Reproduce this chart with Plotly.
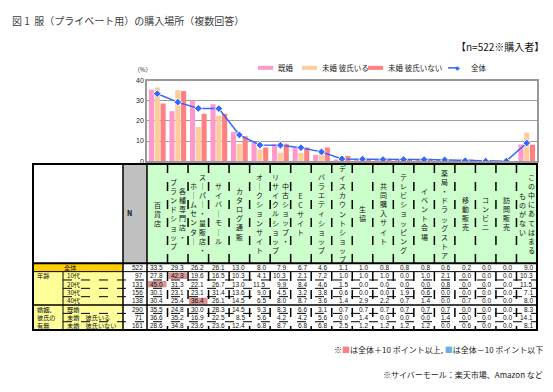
import plotly.graph_objects as go

W, H = 553, 392
FONT = "Noto Sans CJK JP"

# ---------------- data ----------------
categories = ["百貨店", "各種専門店・ブランドショップ", "スーパー・量販店・ホームセンター",
              "サイバーモール", "カタログ通販", "オークションサイト",
              "中古ショップ・リサイクルショップ", "ECサイト", "バラエティショップ",
              "ディスカウントショップ", "生協", "共同購入サイト", "テレビショッピング",
              "イベント会場", "薬局・ドラッグストア", "移動販売", "コンビニ", "訪問販売",
              "この中にあてはまるものがない"]
header_lines = [["百貨店"], ["各種専門店・", "ブランドショップ"], ["スーパー・量販店・", "ホームセンター"],
                ["サイバーモール"], ["カタログ通販"], ["オークションサイト"],
                ["中古ショップ・", "リサイクルショップ"], ["ECサイト"], ["バラエティショップ"],
                ["ディスカウントショップ"], ["生協"], ["共同購入サイト"], ["テレビショッピング"],
                ["イベント会場"], ["薬局・ドラッグストア"], ["移動販売"], ["コンビニ"], ["訪問販売"],
                ["この中にあてはまる", "ものがない"]]

overall = [33.5, 29.3, 26.2, 26.1, 13.0, 8.0, 7.9, 6.7, 4.6, 1.1, 1.0, 0.8, 0.8, 0.8, 0.6, 0.2, 0.0, 0.0, 9.0]
teens = [27.8, 42.3, 19.6, 16.5, 10.3, 4.1, 10.3, 2.1, 7.2, 1.0, 1.0, 1.0, 0.0, 1.0, 2.1, 0.0, 0.0, 0.0, 10.3]
twenties = [45.0, 31.3, 22.1, 26.7, 13.0, 11.5, 9.9, 8.4, 4.6, 1.5, 0.0, 0.0, 0.0, 0.0, 0.8, 0.0, 0.0, 0.0, 11.5]
thirties = [30.1, 23.1, 23.1, 31.4, 13.6, 9.0, 4.5, 3.2, 3.8, 0.6, 0.0, 0.0, 1.9, 0.6, 0.0, 0.0, 0.0, 0.0, 7.1]
forties = [30.4, 25.4, 36.4, 26.1, 14.5, 6.5, 8.0, 8.7, 3.6, 1.4, 2.9, 2.2, 0.7, 1.4, 0.0, 0.7, 0.0, 0.0, 8.0]
married = [35.5, 24.8, 30.0, 28.3, 14.5, 9.3, 8.3, 6.6, 3.1, 0.7, 0.7, 0.7, 0.7, 0.7, 0.7, 0.0, 0.0, 0.0, 8.3]
single_bf = [36.6, 35.2, 16.9, 22.5, 8.5, 5.6, 4.2, 4.2, 5.6, 0.0, 1.4, 0.0, 0.0, 0.0, 1.4, 0.0, 0.0, 0.0, 14.1]
single_nobf = [28.6, 34.8, 23.6, 23.6, 12.4, 6.8, 8.7, 6.8, 6.8, 2.5, 1.2, 1.2, 1.2, 1.2, 0.0, 0.6, 0.0, 0.0, 8.1]

row_labels = ["全体", "10代", "20代", "30代", "40代", "既婚", "未婚　彼氏いる", "未婚　彼氏いない"]
row_n = [522, 97, 131, 156, 138, 290, 71, 161]
row_values = [overall, teens, twenties, thirties, forties, married, single_bf, single_nobf]

series_names = ["既婚", "未婚 彼氏いる", "未婚 彼氏いない", "全体"]
y_ticks = [0, 10, 20, 30, 40]

# ---------------- styles ----------------
C_PINK, C_ORANGE, C_RED, C_BLUE = "#FF99CC", "#FFCC99", "#FF8080", "#3366FF"
C_HI_RED, C_HI_BLUE = "#DA9694", "#8DB4E2"


def px(x):
    return x / W


def py(y):
    return 1 - y / H


PL, PR, PT, PB = 147, 537, 78, 160  # plot area in pixels

fig = go.Figure()
for name, vals, col in zip(series_names[:3], [married, single_bf, single_nobf], [C_PINK, C_ORANGE, C_RED]):
    fig.add_trace(go.Bar(x=categories, y=vals, name=name, marker=dict(color=col, line=dict(width=0)),
                         showlegend=False))
fig.add_trace(go.Scatter(x=categories, y=overall, name=series_names[3], mode="lines+markers",
                         line=dict(color=C_BLUE, width=1.5),
                         marker=dict(symbol="diamond", size=6, color=C_BLUE, line=dict(color="white", width=1)),
                         showlegend=False))

shapes = []
ann = []

# ---- manual legend ----
leg_items = [(258, 273, 276, series_names[0], C_PINK, "bar"),
             (302, 317, 320, series_names[1], C_ORANGE, "bar"),
             (368, 383, 386, series_names[2], C_RED, "bar"),
             (448, 466, 469, series_names[3], C_BLUE, "line")]
LY = 65
for x0, x1, tx, name, col, kind in leg_items:
    if kind == "bar":
        shapes.append(dict(type="line", xref="paper", yref="paper", x0=px(x0), x1=px(x1), y0=py(LY), y1=py(LY),
                           line=dict(color=col, width=4)))
    else:
        shapes.append(dict(type="line", xref="paper", yref="paper", x0=px(x0), x1=px(x1), y0=py(LY), y1=py(LY),
                           line=dict(color=col, width=1.5, dash="dash")))
        ann.append(dict(text="◆", x=px((x0 + x1) / 2), y=py(LY), xref="paper", yref="paper", xanchor="center",
                        yanchor="middle", showarrow=False, font=dict(size=6, color=col, family="DejaVu Sans")))
    ann.append(dict(text=name, x=px(tx), y=py(LY), xref="paper", yref="paper", xanchor="left", yanchor="middle",
                    showarrow=False, font=dict(size=7.5, color="#222", family=FONT)))

# ---- titles ----
ann.append(dict(text="図 1  服（プライベート用）の購入場所（複数回答）", x=px(10), y=py(17), xref="paper", yref="paper",
                xanchor="left", yanchor="middle", showarrow=False, font=dict(size=10, color="#404040", family=FONT)))
ann.append(dict(text="【n=522※購入者】", x=px(546), y=py(43), xref="paper", yref="paper",
                xanchor="right", yanchor="middle", showarrow=False, font=dict(size=10, color="#111", family=FONT)))
ann.append(dict(text="（%）", x=px(132), y=py(67), xref="paper", yref="paper",
                xanchor="left", yanchor="middle", showarrow=False, font=dict(size=6, color="#222", family=FONT)))
ann.append(dict(text="※<span style='color:#FF7F7F'>■</span>は全体＋10 ポイント以上, "
                     "<span style='color:#66B2E8'>■</span>は全体－10 ポイント以下",
                x=px(545), y=py(352), xref="paper", yref="paper", xanchor="right", yanchor="middle",
                showarrow=False, font=dict(size=8, color="#222", family=FONT)))
ann.append(dict(text="※サイバーモール：楽天市場、Amazon など", x=px(545), y=py(377), xref="paper", yref="paper",
                xanchor="right", yanchor="middle", showarrow=False, font=dict(size=8, color="#222", family=FONT)))

# ---- table geometry ----
TL, TGL, TSL, TN, TC0, TR = 33, 63, 123, 147, 147, 537
ncol = len(categories)
cw = (TR - TC0) / ncol
HT, HB = 163, 264
row_y = [264 + 8.5 * i for i in range(9)]


def rect(x0, y0, x1, y1, fill, lw=0, lc="black"):
    shapes.append(dict(type="rect", xref="paper", yref="paper", x0=px(x0), x1=px(x1), y0=py(y1), y1=py(y0),
                       fillcolor=fill, line=dict(width=lw, color=lc), layer="below"))


def hline(x0, x1, y, w=1, dash="solid"):
    shapes.append(dict(type="line", xref="paper", yref="paper", x0=px(x0), x1=px(x1), y0=py(y), y1=py(y),
                       line=dict(color="black", width=w, dash=dash)))


def vline(x, y0, y1, w=1, dash="solid"):
    shapes.append(dict(type="line", xref="paper", yref="paper", x0=px(x), x1=px(x), y0=py(y0), y1=py(y1),
                       line=dict(color="black", width=w, dash=dash)))


# header fills
rect(TL, HT, TSL, HB, "white")
rect(TSL, HT, TN, HB, "#C0C0C0")
rect(TC0, HT, TR, HB, "#CCFFCC")
# label fills
rect(TL, row_y[0], TSL, row_y[1], "#FFCC00")
rect(TL, row_y[1], TSL, row_y[-1], "#FFFF99")

# highlight cells
for r in range(1, len(row_values)):
    for c in range(ncol):
        v, o = row_values[r][c], overall[c]
        fill = None
        if v >= o + 10:
            fill = C_HI_RED
        elif v <= o - 10:
            fill = C_HI_BLUE
        if fill:
            rect(TC0 + c * cw + 1, row_y[r] + 1, TC0 + (c + 1) * cw - 1, row_y[r + 1] - 1, fill)

# header texts
for c, lines in enumerate(header_lines):
    cx = TC0 + (c + 0.5) * cw
    k = len(lines)
    for j, line in enumerate(lines):
        off = 0 if k == 1 else (4.6 if j == 0 else -4.6)
        txt = "<br>".join(ch.replace("ー", "｜") for ch in line)
        ann.append(dict(text=txt, x=px(cx + off), y=py((HT + HB) / 2), xref="paper", yref="paper",
                        xanchor="center", yanchor="middle", showarrow=False,
                        font=dict(size=7, color="#111", family=FONT)))
ann.append(dict(text="<b>N</b>", x=px(125), y=py(213), xref="paper", yref="paper", xanchor="left",
                yanchor="middle", showarrow=False, font=dict(size=7, color="#111", family=FONT)))

# row labels
LF = 6.2
ann.append(dict(text=row_labels[0], x=px(70), y=py((row_y[0] + row_y[1]) / 2), xref="paper", yref="paper",
                xanchor="center", yanchor="middle", showarrow=False, font=dict(size=LF, color="#111", family=FONT)))
ann.append(dict(text="年齢", x=px(35), y=py((row_y[1] + row_y[2]) / 2), xref="paper", yref="paper",
                xanchor="left", yanchor="middle", showarrow=False, font=dict(size=LF, color="#111", family=FONT)))
for j, t in enumerate(["婚姻、", "彼氏の", "有無"]):
    ann.append(dict(text=t, x=px(35), y=py((row_y[5 + j] + row_y[6 + j]) / 2), xref="paper", yref="paper",
                    xanchor="left", yanchor="middle", showarrow=False,
                    font=dict(size=LF, color="#111", family=FONT)))
for r in range(1, len(row_labels)):
    ann.append(dict(text=row_labels[r], x=px(TGL + 2), y=py((row_y[r] + row_y[r + 1]) / 2), xref="paper",
                    yref="paper", xanchor="left", yanchor="middle", showarrow=False,
                    font=dict(size=LF, color="#111", family=FONT)))

# values
for r in range(len(row_values)):
    yc = py((row_y[r] + row_y[r + 1]) / 2)
    ann.append(dict(text=str(row_n[r]), x=px(TN - 2), y=yc, xref="paper", yref="paper", xanchor="right",
                    yanchor="middle", showarrow=False, font=dict(size=6.5, color="#111", family="Arial")))
    for c in range(ncol):
        ann.append(dict(text=f"{row_values[r][c]:.1f}", x=px(TC0 + (c + 1) * cw - 2.5), y=yc, xref="paper",
                        yref="paper", xanchor="right", yanchor="middle", showarrow=False,
                        font=dict(size=6.5, color="#111", family="Arial")))

# grid lines
hline(TL, TR, HB, 2)
hline(TL, TR, row_y[1], 1)
for r in [2, 3, 4]:
    hline(TGL, TR, row_y[r], 1, "dash")
hline(TL, TR, row_y[5], 1.5)
for r in [6, 7]:
    hline(TGL, TR, row_y[r], 1, "dash")
vline(TGL, row_y[1], row_y[-1], 1)
vline(TSL, HT, row_y[-1], 1.5)
vline(TN, HT, row_y[-1], 1.5)
for c in range(1, ncol):
    vline(TC0 + c * cw, HT, row_y[-1], 1.5, "dash")
shapes.append(dict(type="rect", xref="paper", yref="paper", x0=px(TL), x1=px(TR), y0=py(row_y[-1]), y1=py(HT),
                   line=dict(color="black", width=2), fillcolor="rgba(0,0,0,0)"))

fig.update_layout(
    width=W, height=H, margin=dict(l=0, r=0, t=0, b=0),
    paper_bgcolor="white", plot_bgcolor="white",
    barmode="group", bargap=0.15, bargroupgap=0.12,
    font=dict(family=FONT),
    xaxis=dict(domain=[px(PL), px(PR)], range=[-0.5, ncol - 0.5], showticklabels=False, showgrid=False,
               showline=True, linecolor="#999", linewidth=1.5, mirror=True, ticks="", zeroline=False,
               categoryorder="array", categoryarray=categories),
    yaxis=dict(domain=[py(PB), py(PT)], range=[0, 40], tickvals=y_ticks, showgrid=True, gridcolor="#A0A0A0",
               gridwidth=1, showline=True, linecolor="#999", linewidth=1.5, mirror=True, zeroline=False,
               tickfont=dict(size=7, color="#222", family="Arial"), ticks="", ticklen=0),
    shapes=shapes, annotations=ann, showlegend=False,
)

fig.write_html("out.html")
